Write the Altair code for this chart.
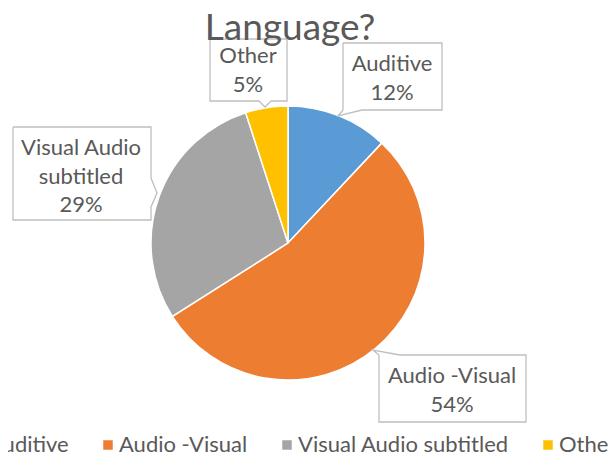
import altair as alt
import pandas as pd

# ---- data ----
categories = ["Auditive", "Audio -Visual", "Visual Audio subtitled", "Other"]
shares = [12, 54, 29, 5]
label_names = ["Auditive", "Audio -Visual", "Visual Audio\nsubtitled", "Other"]
colors = ["#5B9BD5", "#ED7D31", "#A5A5A5", "#FFC000"]
title_text = "Language?"

# ---- layout ----
M = 8        # page margin
PTOP = 30    # top padding reserved for the title
OX, OY = M, M + PTOP   # page px -> plot px
CX, CY, R = 288 - OX, 243 - OY, 137
FONT = "Lato"
TXT = "#595959"
LH = 28.5

# callout outlines (page px), one polygon per label
callout_shapes = {
    "Auditive": [(343, 43), (442, 43), (442, 110), (362, 110), (338, 116), (343, 110)],
    "Audio -Visual": [(379, 355), (373, 350), (400, 355), (526, 355), (526, 422), (379, 422)],
    "Visual Audio subtitled": [(13, 127), (151, 127), (151, 178), (157, 193), (151, 207),
                               (151, 220), (13, 220)],
    "Other": [(210, 39), (287, 39), (287, 101), (271, 101), (265, 107), (259, 101), (210, 101)],
}
# first text line position (page px)
text_first_line = {
    "Auditive": (392, 64),
    "Audio -Visual": (452, 376),
    "Visual Audio subtitled": (81, 148),
    "Other": (248, 56),
}

pie_df = pd.DataFrame({"category": categories, "share": shares, "order": list(range(len(categories)))})

rows = []
for cat in categories:
    pts = callout_shapes[cat] + [callout_shapes[cat][0]]
    for i, (px, py) in enumerate(pts):
        rows.append({"category": cat, "idx": i, "px": px - OX, "py": py - OY})
shape_df = pd.DataFrame(rows)

text_df = pd.DataFrame({
    "category": categories,
    "text": [f"{n}\n{s}%" for n, s in zip(label_names, shares)],
    "tx": [text_first_line[c][0] - OX for c in categories],
    "ty": [text_first_line[c][1] - OY for c in categories],
})

pie = alt.Chart(pie_df).mark_arc(radius=R, stroke="white", strokeWidth=1.5).encode(
    theta=alt.Theta("share:Q", stack=True),
    color=alt.Color(
        "category:N",
        sort=categories,
        scale=alt.Scale(domain=categories, range=colors),
        legend=alt.Legend(
            orient="none", legendX=-42, legendY=396, direction="horizontal", title=None,
            symbolType="square", symbolSize=90, symbolStrokeWidth=0,
            labelFont=FONT, labelFontSize=22, labelColor=TXT, labelOffset=0,
            columnPadding=28, padding=0, labelLimit=400,
        ),
    ),
    order=alt.Order("order:Q"),
    x=alt.value(CX),
    y=alt.value(CY),
)

callouts = alt.Chart(shape_df).mark_line(fill="white", stroke="#BFBFBF", strokeWidth=1.3).encode(
    x=alt.X("px:Q", scale=None, axis=None),
    y=alt.Y("py:Q", scale=None, axis=None),
    detail="category:N",
    order="idx:Q",
)

labels = alt.Chart(text_df).mark_text(
    font=FONT, fontSize=22, color=TXT, lineBreak="\n", lineHeight=LH,
    align="center", baseline="middle",
).encode(
    x=alt.X("tx:Q", scale=None, axis=None),
    y=alt.Y("ty:Q", scale=None, axis=None),
    text="text:N",
)

chart = alt.layer(pie, callouts, labels).properties(
    width=600, height=448 - PTOP,
    autosize=alt.AutoSizeParams(type="none"),
    padding={"top": PTOP, "left": 0, "right": 0, "bottom": 0},
    background="white",
    title=alt.Title(title_text, font=FONT, fontSize=37, fontWeight="normal", color=TXT,
                    anchor="middle", offset=-41, baseline="alphabetic", dx=-18),
).configure_view(strokeWidth=0)

chart.save("out.html", embed_options={"renderer": "svg", "actions": False})
